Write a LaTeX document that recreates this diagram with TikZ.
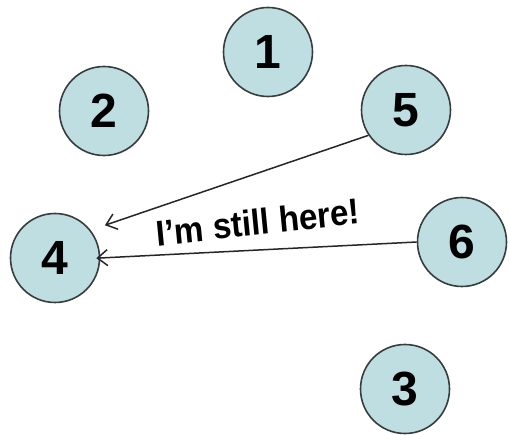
\documentclass[tikz,border=0pt]{standalone}
\usepackage{fontspec}
\setmainfont{Liberation Sans}
\usetikzlibrary{arrows.meta}
\definecolor{nodefill}{RGB}{190,222,226}
\definecolor{nodeline}{RGB}{55,60,60}
\begin{document}
\begin{tikzpicture}[x=1pt,y=-1pt,
  vertex/.style={circle,draw=nodeline,line width=1.6pt,fill=nodefill,minimum size=89pt,inner sep=0pt,
    font=\fontsize{48}{48}\selectfont\bfseries},
  arr/.style={draw=black!85,line width=1.5pt,-{Straight Barb[length=10pt,width=16pt,line width=1.5pt]}},
  lbl/.style={font=\fontsize{36}{36}\selectfont\bfseries,inner sep=0pt,xscale=0.92}]
\useasboundingbox (0,0) rectangle (509,435);
\node[vertex] (n1) at (268,52) {1};
\node[vertex] (n2) at (104,111) {2};
\node[vertex] (n5) at (406,110) {5};
\node[vertex] (n4) at (55,258) {4};
\node[vertex] (n6) at (462,242) {6};
\node[vertex] (n3) at (405,389) {3};
\draw[arr,shorten >=15pt] (n5.214) -- (n4.38);
\draw[arr,shorten >=-4pt] (n6.west) -- (n4.east);
\node[lbl,rotate=6] (msg) at (258,222) {I’m still here!};
\end{tikzpicture}
\end{document}
